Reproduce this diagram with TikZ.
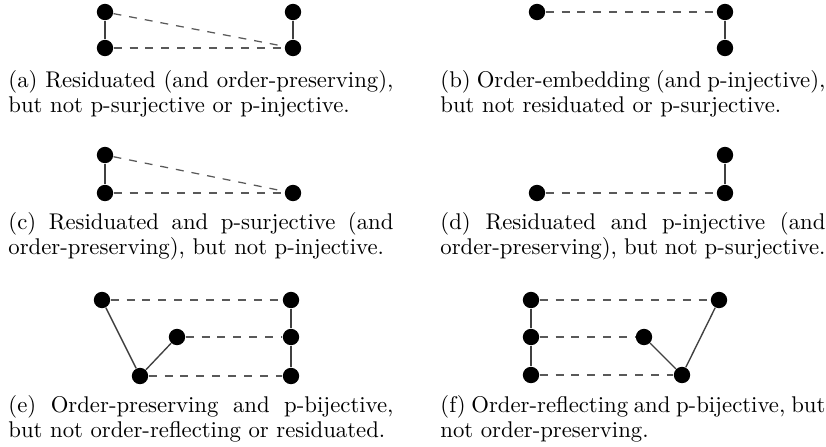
\documentclass[tikz,border=0pt]{standalone}
\usepackage{tikz}
\tikzset{
  dot/.style={circle,fill=black,inner sep=0pt,minimum size=7.2pt},
  solidedge/.style={draw=black!75,line width=0.6pt},
  dashedge/.style={draw=black!65,line width=0.55pt,dash pattern=on 3.5pt off 3.5pt},
  captext/.style={anchor=base west,inner sep=0pt}
}
\newcommand{\capbox}[2]{\parbox[t]{169.4pt}{\fontsize{10}{11}\selectfont #1\linebreak #2}}
\begin{document}
\begin{tikzpicture}[x=0.44pt,y=-0.44pt]
\useasboundingbox (0,0) rectangle (826,446);
% (a)
\node[dot] (a1) at (105,12) {};
\node[dot] (a2) at (105,48) {};
\node[dot] (a3) at (293,12) {};
\node[dot] (a4) at (293,48) {};
\draw[solidedge] (a1) -- (a2);
\draw[solidedge] (a3) -- (a4);
\draw[dashedge] (a1) -- (a4);
\draw[dashedge] (a2) -- (a4);
\node[captext] (ca) at (8,87) {\capbox{(a) Residuated (and order-preserving),}{but not p-surjective or p-injective.}};
% (b)
\node[dot] (b1) at (537,12) {};
\node[dot] (b2) at (725,12) {};
\node[dot] (b3) at (725,48) {};
\draw[solidedge] (b2) -- (b3);
\draw[dashedge] (b1) -- (b2);
\node[captext] (cb) at (440,87) {\capbox{(b) Order-embedding (and p-injective),}{but not residuated or p-surjective.}};
% (c)
\node[dot] (c1) at (105,155) {};
\node[dot] (c2) at (105,193) {};
\node[dot] (c3) at (293,193) {};
\draw[solidedge] (c1) -- (c2);
\draw[dashedge] (c1) -- (c3);
\draw[dashedge] (c2) -- (c3);
\node[captext] (cc) at (8,229) {\capbox{(c) Residuated and p-surjective (and}{order-preserving), but not p-injective.}};
% (d)
\node[dot] (d1) at (537,193) {};
\node[dot] (d2) at (725,155) {};
\node[dot] (d3) at (725,193) {};
\draw[solidedge] (d2) -- (d3);
\draw[dashedge] (d1) -- (d3);
\node[captext] (cd) at (440,229) {\capbox{(d) Residuated and p-injective (and}{order-preserving), but not p-surjective.}};
% (e)
\node[dot] (e1) at (102,300) {};
\node[dot] (e2) at (291,300) {};
\node[dot] (e3) at (177,337) {};
\node[dot] (e4) at (291,337) {};
\node[dot] (e5) at (140,376) {};
\node[dot] (e6) at (291,376) {};
\draw[solidedge] (e1) -- (e5);
\draw[solidedge] (e5) -- (e3);
\draw[solidedge] (e2) -- (e4);
\draw[solidedge] (e4) -- (e6);
\draw[dashedge] (e1) -- (e2);
\draw[dashedge] (e3) -- (e4);
\draw[dashedge] (e5) -- (e6);
\node[captext] (ce) at (8,412) {\capbox{(e) Order-preserving and p-bijective,}{but not order-reflecting or residuated.}};
% (f)
\node[dot] (f1) at (531,300) {};
\node[dot] (f2) at (531,337) {};
\node[dot] (f3) at (531,375) {};
\node[dot] (f4) at (719,300) {};
\node[dot] (f5) at (644,337) {};
\node[dot] (f6) at (682,375) {};
\draw[solidedge] (f1) -- (f2);
\draw[solidedge] (f2) -- (f3);
\draw[solidedge] (f4) -- (f6);
\draw[solidedge] (f6) -- (f5);
\draw[dashedge] (f1) -- (f4);
\draw[dashedge] (f2) -- (f5);
\draw[dashedge] (f3) -- (f6);
\node[captext] (cf) at (440,412) {\capbox{(f) Order-reflecting and p-bijective, but}{not order-preserving.}};
\end{tikzpicture}
\end{document}
